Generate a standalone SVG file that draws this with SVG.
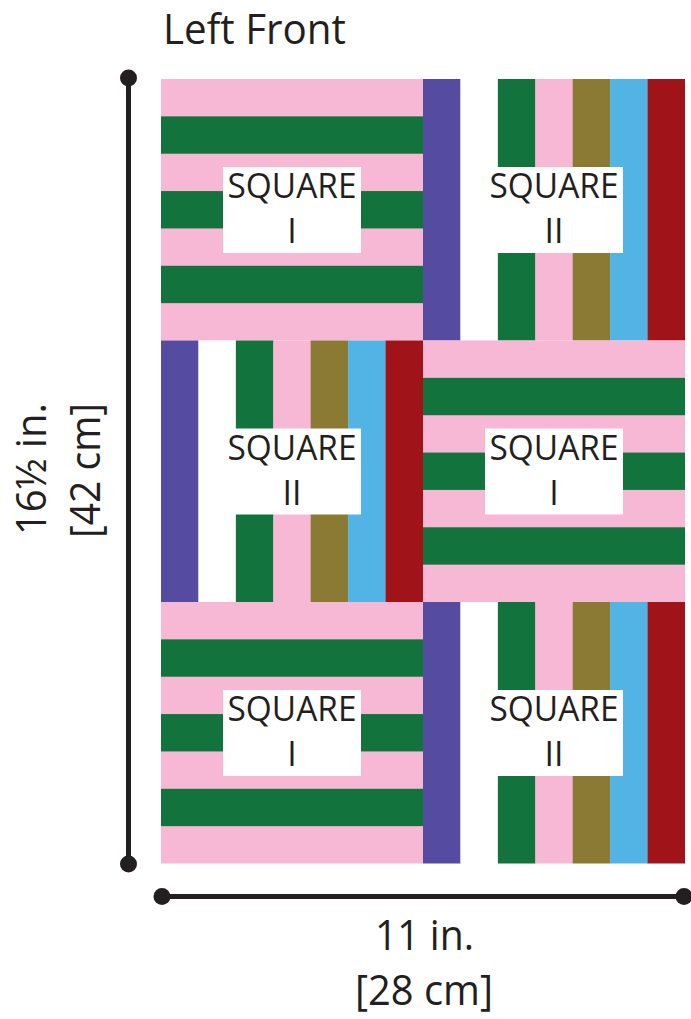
<svg xmlns="http://www.w3.org/2000/svg" width="691" height="1019" viewBox="0 0 691 1019">
<style>
.pk{fill:#F6B8D5}
.gr{fill:#13733C}
.pu{fill:#554CA1}
.wh{fill:#FFFFFF}
.ol{fill:#8A7A33}
.bl{fill:#52B3E5}
.rd{fill:#A01318}
.lbl{font-family:"Open Sans","Liberation Sans",sans-serif;font-size:34px;fill:#231F20;text-anchor:middle}
.dim{font-family:"Open Sans","Liberation Sans",sans-serif;font-size:42px;fill:#231F20}
.ln{stroke:#231F20;stroke-width:5;fill:none}
.dot{fill:#231F20}
</style>
<rect width="691" height="1019" fill="#FFFFFF"/>
<text id="title" class="dim" x="163" y="44" textLength="183" lengthAdjust="spacingAndGlyphs">Left Front</text>

<g id="sq1">
<rect class="pk" x="161" y="79" width="262" height="261.5"/>
<rect class="gr" x="161" y="116.36" width="262" height="37.36"/>
<rect class="gr" x="161" y="191.07" width="262" height="37.36"/>
<rect class="gr" x="161" y="265.79" width="262" height="37.36"/>
<rect class="wh" x="223" y="167" width="138" height="86"/>
<text class="lbl" x="292" y="198" textLength="129" lengthAdjust="spacingAndGlyphs">SQUARE</text>
<text class="lbl" x="292" y="243">I</text>
</g>

<g id="sq2">
<rect class="pu" x="423" y="79" width="37.7" height="261.5"/>
<rect class="wh" x="460.43" y="79" width="37.7" height="261.5"/>
<rect class="gr" x="497.86" y="79" width="37.7" height="261.5"/>
<rect class="pk" x="535.29" y="79" width="37.7" height="261.5"/>
<rect class="ol" x="572.71" y="79" width="37.7" height="261.5"/>
<rect class="bl" x="610.14" y="79" width="37.7" height="261.5"/>
<rect class="rd" x="647.57" y="79" width="37.43" height="261.5"/>
<rect class="wh" x="485" y="167" width="138" height="86"/>
<text class="lbl" x="554" y="198" textLength="129" lengthAdjust="spacingAndGlyphs">SQUARE</text>
<text class="lbl" x="554" y="243">II</text>
</g>

<g id="sq3">
<rect class="pu" x="161" y="340.5" width="37.7" height="261.5"/>
<rect class="wh" x="198.43" y="340.5" width="37.7" height="261.5"/>
<rect class="gr" x="235.86" y="340.5" width="37.7" height="261.5"/>
<rect class="pk" x="273.29" y="340.5" width="37.7" height="261.5"/>
<rect class="ol" x="310.71" y="340.5" width="37.7" height="261.5"/>
<rect class="bl" x="348.14" y="340.5" width="37.7" height="261.5"/>
<rect class="rd" x="385.57" y="340.5" width="37.43" height="261.5"/>
<rect class="wh" x="223" y="428.5" width="138" height="86"/>
<text class="lbl" x="292" y="459.5" textLength="129" lengthAdjust="spacingAndGlyphs">SQUARE</text>
<text class="lbl" x="292" y="504.5">II</text>
</g>

<g id="sq4">
<rect class="pk" x="423" y="340.5" width="262" height="261.5"/>
<rect class="gr" x="423" y="377.86" width="262" height="37.36"/>
<rect class="gr" x="423" y="452.57" width="262" height="37.36"/>
<rect class="gr" x="423" y="527.29" width="262" height="37.36"/>
<rect class="wh" x="485" y="428.5" width="138" height="86"/>
<text class="lbl" x="554" y="459.5" textLength="129" lengthAdjust="spacingAndGlyphs">SQUARE</text>
<text class="lbl" x="554" y="504.5">I</text>
</g>

<g id="sq5">
<rect class="pk" x="161" y="602" width="262" height="261.5"/>
<rect class="gr" x="161" y="639.36" width="262" height="37.36"/>
<rect class="gr" x="161" y="714.07" width="262" height="37.36"/>
<rect class="gr" x="161" y="788.79" width="262" height="37.36"/>
<rect class="wh" x="223" y="690" width="138" height="86"/>
<text class="lbl" x="292" y="721" textLength="129" lengthAdjust="spacingAndGlyphs">SQUARE</text>
<text class="lbl" x="292" y="766">I</text>
</g>

<g id="sq6">
<rect class="pu" x="423" y="602" width="37.7" height="261.5"/>
<rect class="wh" x="460.43" y="602" width="37.7" height="261.5"/>
<rect class="gr" x="497.86" y="602" width="37.7" height="261.5"/>
<rect class="pk" x="535.29" y="602" width="37.7" height="261.5"/>
<rect class="ol" x="572.71" y="602" width="37.7" height="261.5"/>
<rect class="bl" x="610.14" y="602" width="37.7" height="261.5"/>
<rect class="rd" x="647.57" y="602" width="37.43" height="261.5"/>
<rect class="wh" x="485" y="690" width="138" height="86"/>
<text class="lbl" x="554" y="721" textLength="129" lengthAdjust="spacingAndGlyphs">SQUARE</text>
<text class="lbl" x="554" y="766">II</text>
</g>

<g id="connectors">
<line class="ln" x1="128.5" y1="78" x2="128.5" y2="864"/>
<circle class="dot" cx="128.5" cy="78" r="8.5"/>
<circle class="dot" cx="128.5" cy="864" r="8.5"/>
<line class="ln" x1="162" y1="896.5" x2="684" y2="896.5"/>
<circle class="dot" cx="162" cy="896.5" r="8.5"/>
<circle class="dot" cx="684" cy="896.5" r="8.5"/>
</g>

<g id="height-label">
<text class="dim" text-anchor="middle" transform="translate(46,469) rotate(-90)" textLength="132" lengthAdjust="spacingAndGlyphs">16½ in.</text>
<text class="dim" text-anchor="middle" transform="translate(100,470.5) rotate(-90)" textLength="135" lengthAdjust="spacingAndGlyphs">[42 cm]</text>
</g>
<g id="width-label">
<text class="dim" text-anchor="middle" x="424.5" y="950" textLength="99" lengthAdjust="spacingAndGlyphs">11 in.</text>
<text class="dim" text-anchor="middle" x="424" y="1005" textLength="138" lengthAdjust="spacingAndGlyphs">[28 cm]</text>
</g>
</svg>
